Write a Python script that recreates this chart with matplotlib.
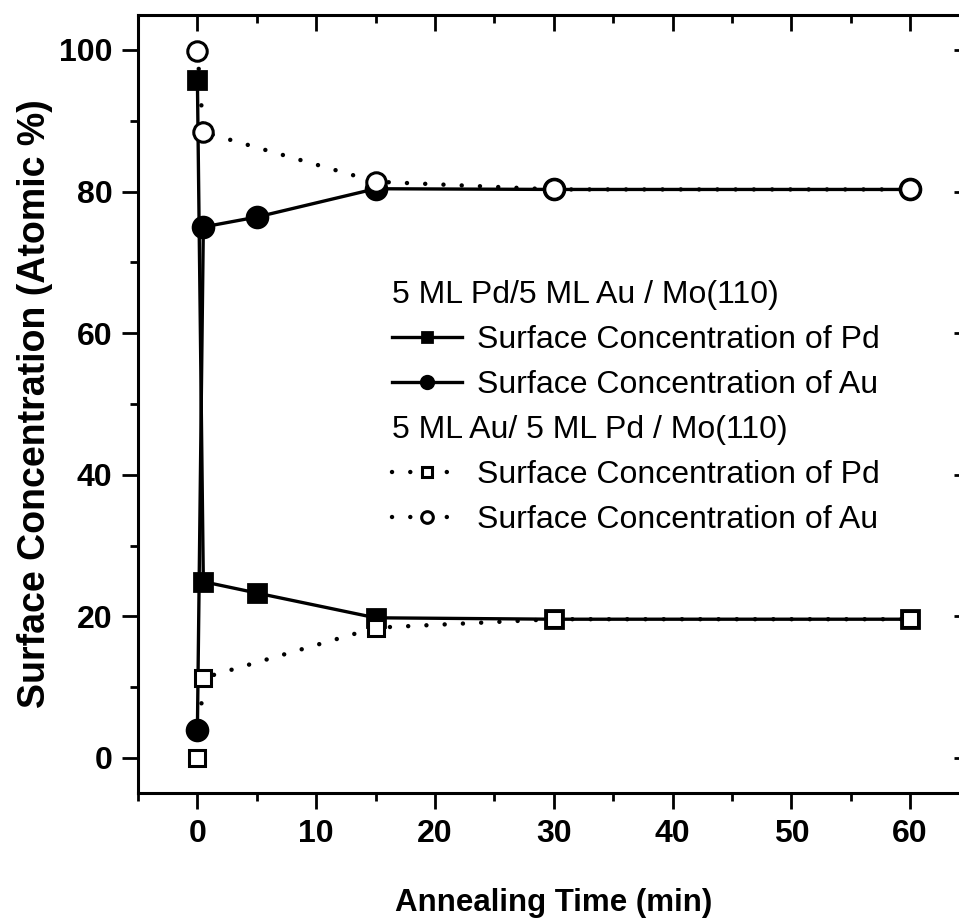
"""Surface concentration of Pd and Au versus annealing time for the two
bilayer stacking orders on Mo(110)."""

import matplotlib
matplotlib.use('Agg')
import matplotlib.pyplot as plt
from matplotlib.lines import Line2D
from matplotlib.ticker import MultipleLocator

plt.rcParams['font.family'] = ['Liberation Sans', 'DejaVu Sans']

# Annealing time (min) and surface concentration (atomic %)
time_pdau = [0, 0.5, 5, 15, 30, 60]
pd_pdau = [95.8, 24.9, 23.3, 19.8, 19.6, 19.6]
au_pdau = [4.0, 75.0, 76.4, 80.4, 80.3, 80.3]

time_aupd = [0, 0.5, 15, 30, 60]
pd_aupd = [0.0, 11.3, 18.4, 19.6, 19.6]
au_aupd = [99.9, 88.4, 81.4, 80.3, 80.3]

header_pdau = '5 ML Pd/5 ML Au / Mo(110)'
header_aupd = '5 ML Au/ 5 ML Pd / Mo(110)'
label_pd = 'Surface Concentration of Pd'
label_au = 'Surface Concentration of Au'

fig = plt.figure(figsize=(9.59, 9.22), dpi=100)
ax = fig.add_axes([0.1439, 0.1395, 1.011 - 0.1439, 0.9842 - 0.1395])

solid = dict(color='k', lw=2.4, mec='k', mew=2, ls='-')
dotted = dict(color='k', lw=3.2, mec='k', mew=2.2, mfc='white',
              ls=(0, (0.01, 4.1)), dash_capstyle='round')

l1, = ax.plot(time_pdau, pd_pdau, marker='s', ms=13, mfc='k', **solid)
l2, = ax.plot(time_pdau, au_pdau, marker='o', ms=15, mfc='k', **solid)
l3, = ax.plot(time_aupd, pd_aupd, marker='s', ms=12, **dotted)
l4, = ax.plot(time_aupd, au_aupd, marker='o', ms=14, **dotted)

ax.set_xlim(-5, 65)
ax.set_ylim(-5, 105)
ax.xaxis.set_major_locator(MultipleLocator(10))
ax.xaxis.set_minor_locator(MultipleLocator(5))
ax.yaxis.set_major_locator(MultipleLocator(20))
ax.yaxis.set_minor_locator(MultipleLocator(10))

for side in ax.spines.values():
    side.set_linewidth(2.2)

ax.tick_params(which='both', direction='out', width=2)
ax.tick_params(which='major', length=11.5, pad=7, labelsize=23)
ax.tick_params(which='minor', length=6)
# inward ticks on the top and right frame
ax.tick_params(which='both', top=True, right=True)
for tick in ax.xaxis.get_major_ticks() + ax.xaxis.get_minor_ticks():
    tick.tick2line.set_marker(3)  # TICKDOWN
for tick in ax.yaxis.get_major_ticks() + ax.yaxis.get_minor_ticks():
    tick.tick2line.set_marker(0)  # TICKLEFT
for lbl in ax.get_xticklabels() + ax.get_yticklabels():
    lbl.set_fontweight('bold')

ax.set_xlabel('Annealing Time (min)', fontsize=22.5, fontweight='bold',
              labelpad=28)
ax.set_ylabel('Surface Concentration (Atomic %)', fontsize=27,
              fontweight='bold', labelpad=4)

blank = Line2D([], [], ls='none')
handles = [blank, l1, l2, blank, l3, l4]
labels = [header_pdau, label_pd, label_au, header_aupd, label_pd, label_au]
fs = 23
hlen, hpad = 2.2, 0.45
leg = ax.legend(handles, labels, loc='upper left',
                bbox_to_anchor=(0.3054, 0.659), frameon=False, fontsize=fs,
                handlelength=hlen, handletextpad=hpad, markerscale=0.6,
                labelspacing=0.47, borderpad=0, borderaxespad=0)
# header rows have no symbol: move their text back to the handle column
shift = (hlen + hpad) * fs * fig.dpi / 72
for i in (0, 3):
    leg.get_texts()[i].set_x(-shift)

fig.savefig('out.png', dpi=100)
